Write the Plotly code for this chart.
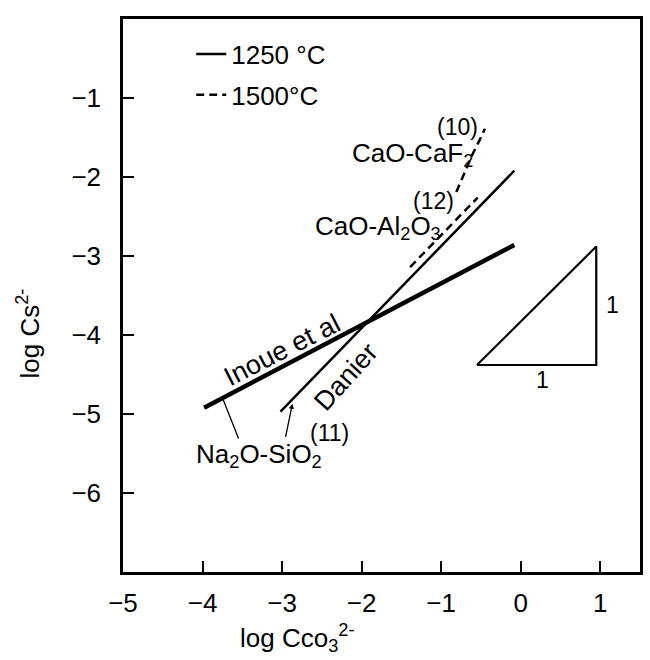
import plotly.graph_objects as go

# ---- data (log units) ----
inoue_x = [-3.98, -0.08]
inoue_y = [-4.92, -2.86]

danier_x = [-3.02, -0.08]
danier_y = [-4.97, -1.92]

cao_al2o3_x = [-1.39, -0.54]
cao_al2o3_y = [-3.14, -2.26]

cao_caf2_x = [-0.81, -0.68, -0.60, -0.52, -0.45]
cao_caf2_y = [-2.19, -1.89, -1.70, -1.54, -1.39]

slope_tri_x = [-0.55, 0.95, 0.95, -0.55]
slope_tri_y = [-4.38, -4.38, -2.88, -4.38]

x_ticks = [-5, -4, -3, -2, -1, 0, 1]
y_ticks = [-6, -5, -4, -3, -2, -1]
x_tick_text = ["\u22125", "\u22124", "\u22123", "\u22122", "\u22121", "0", "1"]
y_tick_text = ["\u22126", "\u22125", "\u22124", "\u22123", "\u22122", "\u22121"]

FONT = "Liberation Sans"
BLACK = "black"

fig = go.Figure()

fig.add_trace(go.Scatter(x=danier_x, y=danier_y, mode="lines", name="1250 °C",
                         line=dict(color=BLACK, width=2.5), legendgroup="a"))
fig.add_trace(go.Scatter(x=inoue_x, y=inoue_y, mode="lines", showlegend=False,
                         line=dict(color=BLACK, width=4.5), legendgroup="a"))
fig.add_trace(go.Scatter(x=cao_al2o3_x, y=cao_al2o3_y, mode="lines", name="1500°C",
                         line=dict(color=BLACK, width=2.5, dash="8px,5px"), legendgroup="b"))
fig.add_trace(go.Scatter(x=cao_caf2_x, y=cao_caf2_y, mode="lines", showlegend=False,
                         line=dict(color=BLACK, width=2.5, dash="8px,5px"), legendgroup="b"))
fig.add_trace(go.Scatter(x=slope_tri_x, y=slope_tri_y, mode="lines", showlegend=False,
                         line=dict(color=BLACK, width=2.2)))

def label(x, y, text, size=26, angle=0):
    fig.add_annotation(x=x, y=y, xref="x", yref="y", text=text, showarrow=False,
                       textangle=angle, font=dict(family=FONT, size=size, color=BLACK))

label(-0.79, -1.37, "(10)", 23)
label(-1.36, -1.71, "CaO-CaF<sub>2</sub>")
label(-1.10, -2.30, "(12)", 23)
label(-1.80, -2.64, "CaO-Al<sub>2</sub>O<sub>3</sub>")
label(-3.00, -4.19, "Inoue et al", 27, -27)
label(-2.20, -4.53, "Danier", 27, -48)
label(-3.29, -5.52, "Na<sub>2</sub>O-SiO<sub>2</sub>")
label(-2.41, -5.24, "(11)", 23)
label(0.27, -4.57, "1", 23)
label(1.15, -3.62, "1", 23)

# pointer lines from the Na2O-SiO2 label
fig.add_annotation(x=-3.74, y=-4.82, ax=-3.54, ay=-5.33, xref="x", yref="y",
                   axref="x", ayref="y", text="", showarrow=True, arrowhead=0,
                   arrowwidth=1.3, arrowcolor=BLACK)
fig.add_annotation(x=-2.87, y=-4.87, ax=-2.96, ay=-5.31, xref="x", yref="y",
                   axref="x", ayref="y", text="", showarrow=True, arrowhead=2,
                   arrowsize=0.8, arrowwidth=1.3, arrowcolor=BLACK)

# axis titles (offset from the plot centre, as in the reference)
fig.add_annotation(x=0.337, y=-0.12, xref="paper", yref="paper", showarrow=False,
                   text="log Cco<sub>3</sub><sup>2-</sup>", xanchor="center", yanchor="middle",
                   font=dict(family=FONT, size=26, color=BLACK))
fig.add_annotation(x=-0.183, y=0.432, xref="paper", yref="paper", showarrow=False,
                   text="log Cs<sup>2-</sup>", textangle=-90, xanchor="center", yanchor="middle",
                   font=dict(family=FONT, size=26, color=BLACK))

axis_common = dict(showgrid=False, zeroline=False, showline=True, linecolor=BLACK,
                   linewidth=2.5, mirror=True, ticks="inside", ticklen=11,
                   tickwidth=2, tickcolor=BLACK,
                   tickfont=dict(family=FONT, size=26, color=BLACK))

fig.update_layout(
    width=650, height=660,
    margin=dict(l=123, r=7, t=19, b=88),
    paper_bgcolor="white", plot_bgcolor="white",
    xaxis=dict(range=[-5, 1.5], tickvals=x_ticks, ticktext=x_tick_text,
               ticklabelstandoff=6, **axis_common),
    yaxis=dict(range=[-7, 0], tickvals=y_ticks, ticktext=y_tick_text,
               ticklabelstandoff=14, **axis_common),
    legend=dict(x=0.132, y=0.979, xanchor="left", yanchor="top",
                bgcolor="rgba(0,0,0,0)", borderwidth=0,
                font=dict(family=FONT, size=26, color=BLACK),
                tracegroupgap=4, traceorder="grouped"),
)

fig.write_html("out.html")
